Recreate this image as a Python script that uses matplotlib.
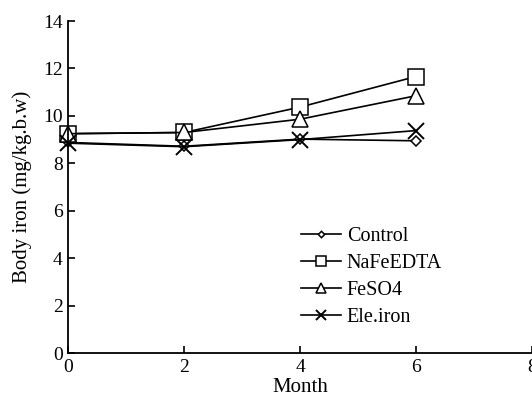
import numpy as np
import matplotlib.pyplot as plt

plt.rcParams['font.family'] = ['Liberation Serif', 'DejaVu Serif']

# data
month = [0, 2, 4, 6]
control = [8.88, 8.72, 9.02, 8.95]
nafeedta = [9.25, 9.30, 10.37, 11.66]
feso4 = [9.25, 9.30, 9.86, 10.85]
ele_iron = [8.85, 8.70, 9.00, 9.38]

fig = plt.figure(figsize=(5.32, 4.04), dpi=100)
ax = fig.add_axes([0.128, 0.126, 0.872, 0.822])

ax.plot(month, control, '-', color='black', lw=1.2, marker='D', markersize=5,
        markerfacecolor='white', markeredgewidth=1.1, label='Control', clip_on=False)
ax.plot(month, nafeedta, '-', color='black', lw=1.2, marker='s', markersize=11,
        markerfacecolor='white', markeredgewidth=1.1, label='NaFeEDTA', clip_on=False)
ax.plot(month, feso4, '-', color='black', lw=1.2, marker='^', markersize=11,
        markerfacecolor='white', markeredgewidth=1.1, label='FeSO4', clip_on=False)
ax.plot(month, ele_iron, '-', color='black', lw=1.2, marker='x', markersize=11,
        markeredgewidth=1.4, label='Ele.iron', clip_on=False)

ax.set_xlim(0, 8)
ax.set_ylim(0, 14)
ax.set_xticks([0, 2, 4, 6, 8])
ax.set_yticks([0, 2, 4, 6, 8, 10, 12, 14])
ax.spines['top'].set_visible(False)
ax.spines['right'].set_visible(False)
ax.spines['left'].set_linewidth(1.3)
ax.spines['bottom'].set_linewidth(1.3)
ax.tick_params(direction='in', length=5, width=1.2, labelsize=14, pad=4)

ax.set_xlabel('Month', fontsize=15, labelpad=2)
ax.set_ylabel('Body iron (mg/kg.b.w)', fontsize=15, labelpad=8)

ax.legend(loc='lower left', bbox_to_anchor=(0.462, 0.025), frameon=False, fontsize=14.5,
          handlelength=2.0, handletextpad=0.3, labelspacing=0.38, markerscale=0.65)

fig.savefig('out.png', dpi=100)
